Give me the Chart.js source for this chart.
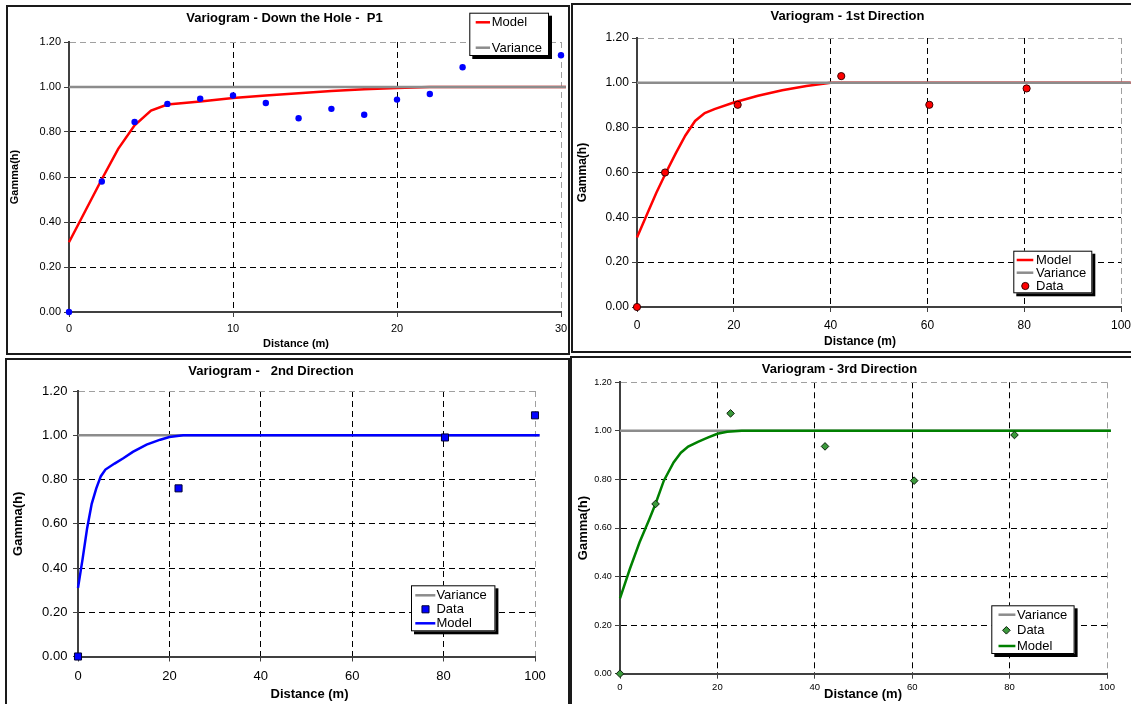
<!DOCTYPE html>
<html>
<head>
<meta charset="utf-8">
<script src="https://cdn.jsdelivr.net/npm/chart.js@4.4.1/dist/chart.umd.min.js"></script>
<style>
body{margin:0;width:1131px;height:704px;overflow:hidden;background:#fff;}
.frame{position:absolute;border:2px solid #1a1a1a;box-sizing:border-box;}
canvas{position:absolute;}
</style>
</head>
<body>
<div class="frame" style="left:6px;top:5px;width:564px;height:350px"></div>
<div class="frame" style="left:571px;top:3px;width:570px;height:350px"></div>
<div class="frame" style="left:5px;top:358px;width:565px;height:360px"></div>
<div class="frame" style="left:570px;top:356px;width:570px;height:360px"></div>

<canvas id="cHole" style="left:8px;top:7px" width="560" height="345"></canvas>
<canvas id="cDir1" style="left:574px;top:5px" width="557" height="346"></canvas>
<canvas id="cDir2" style="left:7px;top:360px" width="557" height="344"></canvas>
<canvas id="cDir3" style="left:572px;top:358px" width="559" height="346"></canvas>

<script>
// ===== DATA =====
// down the hole - P1
const holeLag    = [0, 2, 4, 6, 8, 10, 12, 14, 16, 18, 20, 22, 24, 30];
const holeGamma  = [0, 0.58, 0.845, 0.925, 0.948, 0.962, 0.929, 0.861, 0.903, 0.877, 0.944, 0.969, 1.088, 1.141];
const holeModelX = [0, 1, 2, 3, 4, 5, 6, 8, 10, 12, 14, 16, 18, 20, 22, 30.3];
const holeModelY = [0.31, 0.45, 0.59, 0.725, 0.83, 0.895, 0.922, 0.936, 0.951, 0.962, 0.972, 0.982, 0.99, 0.996, 1.0, 1.0];
const holeVarX   = [0, 30.3];
const holeVarY   = [1, 1];

// 1st direction
const dir1Lag    = [0, 5.8, 20.8, 42.2, 60.4, 80.5];
const dir1Gamma  = [0, 0.60, 0.902, 1.03, 0.902, 0.975];
const dir1ModelX = [0, 2, 4, 6, 8, 10, 12, 14, 16, 20, 25, 30, 35, 40, 102];
const dir1ModelY = [0.31, 0.41, 0.51, 0.60, 0.685, 0.765, 0.83, 0.865, 0.883, 0.912, 0.942, 0.967, 0.986, 1.0, 1.0];
const dir1VarX   = [0, 102];
const dir1VarY   = [1, 1];

// 2nd direction
const dir2Lag    = [0, 22, 80.3, 100];
const dir2Gamma  = [0, 0.76, 0.99, 1.09];
const dir2ModelX = [0, 1, 2, 3, 4, 5, 6, 8, 10, 12, 15, 18, 20, 23, 101];
const dir2ModelY = [0.31, 0.44, 0.58, 0.69, 0.76, 0.815, 0.845, 0.872, 0.897, 0.925, 0.958, 0.98, 0.992, 1.0, 1.0];
const dir2VarX   = [0, 101];
const dir2VarY   = [1, 1];

// 3rd direction
const dir3Lag    = [0, 7.3, 22.7, 42.1, 60.4, 81.0];
const dir3Gamma  = [0, 0.699, 1.072, 0.936, 0.795, 0.983];
const dir3ModelX = [0, 2, 4, 6, 7.3, 9, 11, 12.5, 14, 16, 18, 20, 22, 25, 100.8];
const dir3ModelY = [0.31, 0.43, 0.54, 0.635, 0.70, 0.795, 0.87, 0.91, 0.935, 0.955, 0.972, 0.988, 0.996, 1.0, 1.0];
const dir3VarX   = [0, 100.8];
const dir3VarY   = [1, 1];

const yTicks = [0, 0.2, 0.4, 0.6, 0.8, 1.0, 1.2];

Chart.defaults.font.family = '"Liberation Sans", Arial, sans-serif';
Chart.defaults.color = '#000';
Chart.defaults.animation = false;

function pts(xs, ys){ return xs.map((x,i)=>({x:x, y:ys[i]})); }

function gridColor(c){
  const v = c.tick.value, s = c.scale;
  if(Math.abs(v - s.min) < 1e-9) return 'rgba(0,0,0,0)';
  if(Math.abs(v - s.max) < 1e-9) return '#a0a0a0';
  return '#000';
}

function markPath(ctx, style, r, x, y){
  ctx.beginPath();
  if(style === 'rect'){
    const h = r*Math.SQRT1_2;
    ctx.rect(x-h, y-h, 2*h, 2*h);
  } else if(style === 'rectRot'){
    ctx.moveTo(x, y-r); ctx.lineTo(x+r, y); ctx.lineTo(x, y+r); ctx.lineTo(x-r, y); ctx.closePath();
  } else {
    ctx.arc(x, y, r, 0, Math.PI*2);
  }
}

// ===== LEGEND BOX + X CAPTION =====
const panelExtras = {
  id:'panelExtras',
  afterDraw(chart, args, o){
    const ctx = chart.ctx;
    ctx.save();
    ctx.fillStyle = '#000';
    ctx.textAlign = 'center';
    ctx.textBaseline = 'middle';
    ctx.font = 'bold ' + o.capSize + 'px "Liberation Sans", Arial, sans-serif';
    ctx.fillText(o.caption, o.capX, o.capY);

    const L = o.legend;
    ctx.fillStyle = '#000';
    ctx.fillRect(L.x+3, L.y+3, L.w, L.h);
    ctx.fillStyle = '#fff';
    ctx.fillRect(L.x, L.y, L.w, L.h);
    ctx.strokeStyle = '#000';
    ctx.lineWidth = 1;
    ctx.strokeRect(L.x+0.5, L.y+0.5, L.w-1, L.h-1);
    ctx.font = '13px "Liberation Sans", Arial, sans-serif';
    ctx.textAlign = 'left';
    L.rows.forEach((label,i)=>{
      const ds = chart.data.datasets.find(d=>d.label === label);
      const y = L.rowY[i];
      if(ds.showLine){
        ctx.strokeStyle = ds.borderColor;
        ctx.lineWidth = ds.borderWidth;
        ctx.beginPath(); ctx.moveTo(L.x0, y); ctx.lineTo(L.x1, y); ctx.stroke();
      } else {
        ctx.fillStyle = ds.pointBackgroundColor;
        ctx.strokeStyle = ds.pointBorderColor;
        ctx.lineWidth = ds.pointBorderWidth;
        markPath(ctx, ds.pointStyle, ds.pointRadius, L.mx, y);
        ctx.fill();
        if(ds.pointBorderWidth > 0) ctx.stroke();
      }
      ctx.fillStyle = '#000';
      ctx.fillText(label, L.tx, y+0.5);
    });
    ctx.restore();
  }
};

// ===== CHART =====
function makePanel(id, p){
  // varOnTop: sill line drawn over the model where they meet
  const modelOrder = p.varOnTop ? 2 : 1;
  const varOrder   = p.varOnTop ? 1 : 2;
  return new Chart(document.getElementById(id), {
    type:'scatter',
    data:{ datasets:[
      { label:'Data', data:pts(p.lag, p.gamma), pointStyle:p.mark, pointRadius:p.markR,
        pointBackgroundColor:p.markColor, pointBorderColor:p.markEdge, pointBorderWidth:p.markEdgeW,
        pointHoverRadius:p.markR, order:0, clip:false },
      { label:'Model', data:pts(p.modelX, p.modelY), showLine:true, borderColor:p.lineColor,
        borderWidth:2.5, pointRadius:0, pointHoverRadius:0, tension:0, order:modelOrder, clip:false },
      { label:'Variance', data:pts(p.varX, p.varY), showLine:true, borderColor:'#8c8c8c',
        borderWidth:2.5, pointRadius:0, pointHoverRadius:0, order:varOrder, clip:false }
    ]},
    options:{
      responsive:false,
      animation:false,
      layout:{ padding:{ left:0, top:0, right:p.padR, bottom:0 } },
      plugins:{
        legend:{ display:false },
        tooltip:{ enabled:false },
        title:{ display:true, text:p.title, color:'#000',
          font:{ size:13, weight:'bold' }, padding:{ top:p.tTop, bottom:p.tBot } },
        panelExtras:{ caption:'Distance (m)', capSize:p.capSize, capX:p.capX, capY:p.capY, legend:p.legend }
      },
      scales:{
        x:{
          type:'linear', min:0, max:p.xMax,
          afterFit(s){ s.height = p.xH; s.paddingLeft = 0; s.paddingRight = 0; },
          ticks:{ stepSize:p.xStep, font:{ size:p.xTick }, padding:p.xTickPad, maxRotation:0, autoSkip:false },
          grid:{ color:gridColor, lineWidth:1, tickLength:5, tickColor:'#404040', tickWidth:1, tickBorderDash:[] },
          border:{ color:'#404040', width:2, dash:[6,4] }
        },
        y:{
          min:0, max:1.2,
          afterFit(s){ s.width = p.yW; s.paddingTop = 0; s.paddingBottom = 0; },
          afterBuildTicks(s){ s.ticks = yTicks.map(v=>({value:v})); },
          ticks:{ font:{ size:p.yTick }, padding:p.yTickPad, callback:v=>Number(v).toFixed(2) },
          grid:{ color:gridColor, lineWidth:1, tickLength:5, tickColor:'#404040', tickWidth:1, tickBorderDash:[] },
          border:{ color:'#404040', width:2, dash:[6,4] },
          title:{ display:true, text:'Gamma(h)', color:'#000', font:{ size:p.yTitle, weight:'bold' },
            padding:{ top:p.yTitlePad, bottom:0 } }
        }
      }
    },
    plugins:[panelExtras]
  });
}

makePanel('cHole', {
  title:'Variogram - Down the Hole -  P1', varOnTop:true,
  lag:holeLag, gamma:holeGamma, modelX:holeModelX, modelY:holeModelY, varX:holeVarX, varY:holeVarY,
  mark:'circle', markR:3.2, markColor:'#0000ff', markEdge:'#0000ff', markEdgeW:0, lineColor:'#ff0000',
  xMax:30, xStep:10, padR:7, tTop:3.5, tBot:15.9,
  yW:61, yTick:11, yTickPad:3, yTitle:11, yTitlePad:0.4,
  xH:40, xTick:11, xTickPad:5.4, capSize:11, capX:288, capY:337,
  legend:{ x:461.3, y:5.7, w:79.7, h:43.3, rows:['Model','Variance'], rowY:[15.3, 40.7], x0:467.7, x1:482, tx:483.7, mx:475 }
});

makePanel('cDir1', {
  title:'Variogram - 1st Direction', varOnTop:true,
  lag:dir1Lag, gamma:dir1Gamma, modelX:dir1ModelX, modelY:dir1ModelY, varX:dir1VarX, varY:dir1VarY,
  mark:'circle', markR:3.6, markColor:'#ff0000', markEdge:'#3a0000', markEdgeW:1, lineColor:'#ff0000',
  xMax:100, xStep:20, padR:10, tTop:3.2, tBot:14.2,
  yW:63, yTick:12, yTickPad:3.2, yTitle:12, yTitlePad:1.3,
  xH:44, xTick:12, xTickPad:6.8, capSize:12, capX:286, capY:337,
  legend:{ x:439.3, y:245.7, w:79, h:42.6, rows:['Model','Variance','Data'], rowY:[255, 267.7, 281], x0:442.7, x1:459.3, tx:462, mx:451.3 }
});

makePanel('cDir2', {
  title:'Variogram -   2nd Direction', varOnTop:false,
  lag:dir2Lag, gamma:dir2Gamma, modelX:dir2ModelX, modelY:dir2ModelY, varX:dir2VarX, varY:dir2VarY,
  mark:'rect', markR:5, markColor:'#0000ff', markEdge:'#000033', markEdgeW:1, lineColor:'#0000ff',
  xMax:100, xStep:20, padR:29, tTop:3.2, tBot:12.2,
  yW:71, yTick:13, yTickPad:5.6, yTitle:13, yTitlePad:3.4,
  xH:47.5, xTick:13, xTickPad:6.7, capSize:13, capX:302.5, capY:334,
  legend:{ x:404, y:225.3, w:84.4, h:46, rows:['Variance','Data','Model'], rowY:[235.3, 249.3, 263.3], x0:408.3, x1:428.3, tx:429.4, mx:418.5 }
});

makePanel('cDir3', {
  title:'Variogram - 3rd Direction', varOnTop:false,
  lag:dir3Lag, gamma:dir3Gamma, modelX:dir3ModelX, modelY:dir3ModelY, varX:dir3VarX, varY:dir3VarY,
  mark:'rectRot', markR:3.8, markColor:'#3c9a3c', markEdge:'#0a200a', markEdgeW:1, lineColor:'#008000',
  xMax:100, xStep:20, padR:24, tTop:3.2, tBot:5.5,
  yW:48, yTick:9, yTickPad:3.2, yTitle:13, yTitlePad:3.2,
  xH:30.3, xTick:9.5, xTickPad:2.6, capSize:13, capX:291, capY:336,
  legend:{ x:419.3, y:247.3, w:83.3, h:48.7, rows:['Variance','Data','Model'], rowY:[256.7, 272.3, 288], x0:426.5, x1:443.4, tx:445, mx:434.4 }
});
</script>
</body>
</html>
